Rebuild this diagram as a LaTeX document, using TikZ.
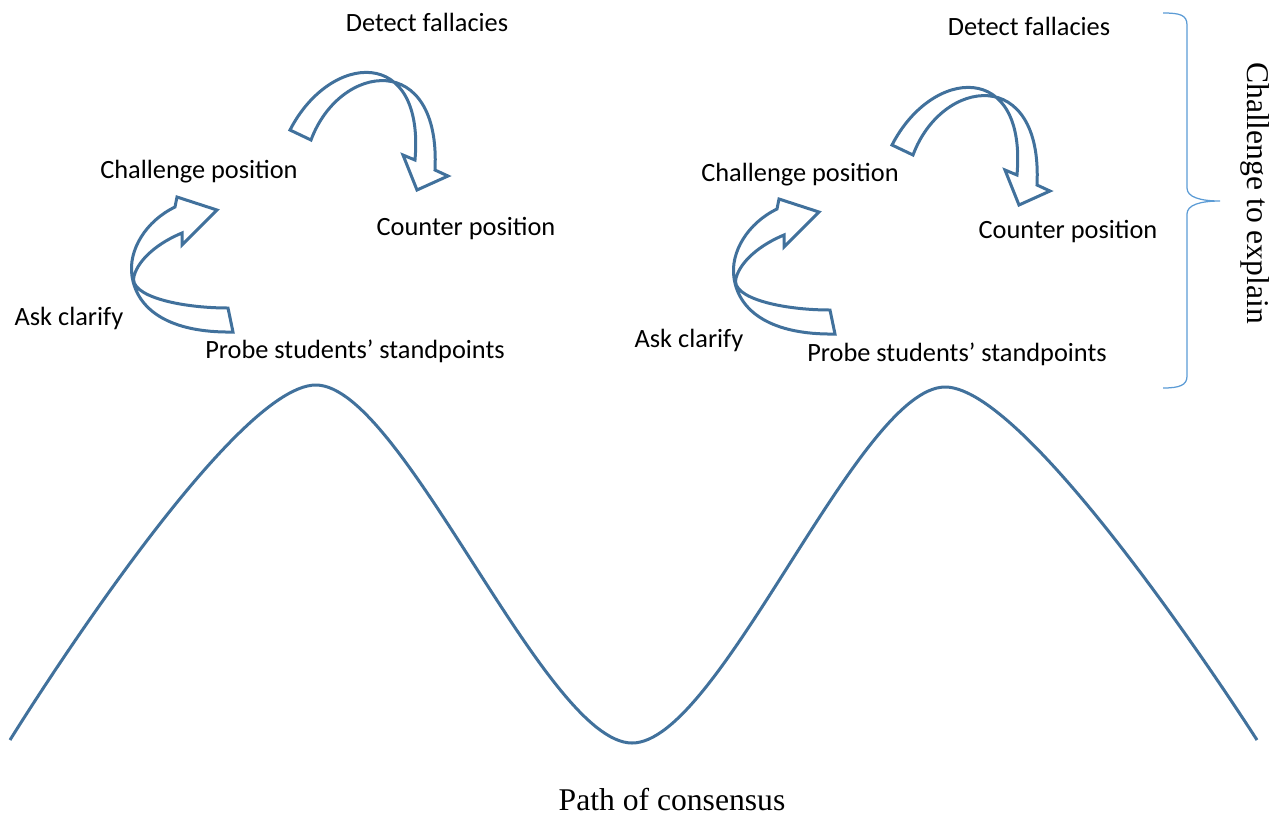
\documentclass[tikz,border=0pt]{standalone}
\usepackage{fontspec}
\setmainfont{Liberation Serif}
\newfontfamily\labelfont{Carlito}
\usetikzlibrary{calc}
\definecolor{wave}{HTML}{41719C}
\definecolor{bracecol}{HTML}{5B9BD5}
\tikzset{
	step label/.style={font=\labelfont\fontsize{15}{18}\selectfont, text=black, inner sep=0pt},
	side label/.style={font=\fontsize{18}{22}\selectfont, text=black, inner sep=0pt},
	blockarrow/.style={draw=wave, line width=0.6mm, line join=miter, fill=white}
}
% curved block arrow going over the top (challenge -> counter)
\def\toparrow{\draw[blockarrow] (290,130) .. controls (330,52) and (425,45) .. (415,160) -- (403,155) -- (417,190) -- (448,176) -- (435,170) .. controls (441,50) and (340,62) .. (311,140) -- cycle;}
% curved block arrow coming round the left (clarify -> challenge)
\def\lowarrow{\draw[blockarrow] (228,308) .. controls (180,308) and (128,296) .. (134,276) .. controls (139,258) and (160,242) .. (182,233) -- (182,245) -- (217,210) -- (177,197) -- (175,207) .. controls (146,221) and (128,250) .. (132,276) .. controls (137,310) and (170,333) .. (233,332) -- cycle;}

\begin{document}
\begin{tikzpicture}[x=0.02cm, y=-0.02cm]
			%%%%% START %%%%%
			\useasboundingbox (0,0) rectangle (1278,816);
			
			% path of consensus
			\draw[line width=0.6mm, color=wave] plot[smooth] coordinates {(10,740) (316,385) (632,743) (945,387) (1257,740)};
			\node[side label] (path) at (672,800) {Path of consensus};
			
			% first round
			\toparrow
			\lowarrow
			\node[step label] (detectA) at (427,22) {Detect fallacies};
			\node[step label] (challengeA) at (199,172) {Challenge position};
			\node[step label] (counterA) at (466,229) {Counter position};
			\node[step label] (clarifyA) at (69,318) {Ask clarify};
			\node[step label] (probeA) at (355,351) {Probe students’ standpoints};
			
			% second round
			\begin{scope}[shift={(602,15)}]
				\toparrow
			\end{scope}
			\begin{scope}[shift={(602,2)}]
				\lowarrow
			\end{scope}
			\node[step label] (detectB) at (1029,26) {Detect fallacies};
			\node[step label] (challengeB) at (800,175) {Challenge position};
			\node[step label] (counterB) at (1068,232) {Counter position};
			\node[step label] (clarifyB) at (689,340) {Ask clarify};
			\node[step label] (probeB) at (957,354) {Probe students’ standpoints};
			
			% brace
			\draw[line width=0.25mm, color=bracecol] (1163,13) .. controls (1180,13) and (1187,15) .. (1187,25) -- (1187,188) .. controls (1187,197) and (1200,201) .. (1220,201) .. controls (1200,201) and (1187,205) .. (1187,214) -- (1187,376) .. controls (1187,385) and (1180,388) .. (1163,388);
			\node[side label, rotate=-90] (explain) at (1255,193) {Challenge to explain};
			
			%%%%% END %%%%%
		\end{tikzpicture}
\end{document}
